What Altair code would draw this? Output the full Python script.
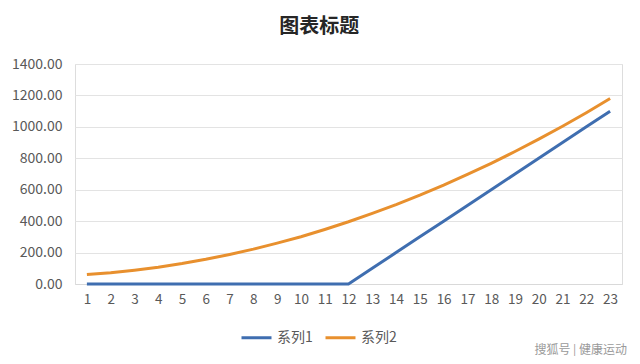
import altair as alt
import pandas as pd

categories = list(range(1, 24))
series1 = [0, 0, 0, 0, 0, 0, 0, 0, 0, 0, 0, 0,
           100, 200, 300, 400, 500, 600, 700, 800, 900, 1000, 1100]
series2 = [60, 72, 88, 107, 130, 157, 188, 222, 260, 301, 347, 396,
           449, 505, 565, 629, 697, 768, 843, 922, 1004, 1090, 1180]
series_names = ["系列1", "系列2"]
colors = ["#3F6EB0", "#E8902E"]
y_ticks = [0, 200, 400, 600, 800, 1000, 1200, 1400]

rows = []
for i, c in enumerate(categories):
    rows.append({"x": str(c), "value": series1[i], "series": series_names[0]})
    rows.append({"x": str(c), "value": series2[i], "series": series_names[1]})
df = pd.DataFrame(rows)

FONT = "Noto Sans CJK SC"

lines = alt.Chart(df).mark_line(strokeWidth=3).encode(
    x=alt.X("x:O", sort=[str(c) for c in categories],
            scale=alt.Scale(type="point", padding=0.5),
            axis=alt.Axis(title=None, labelAngle=0, ticks=False, domain=True,
                          domainColor="#D9D9D9", labelColor="#595959",
                          labelFontSize=13.5, labelPadding=8, labelFont=FONT,
                          grid=False)),
    y=alt.Y("value:Q", scale=alt.Scale(domain=[0, 1400], nice=False),
            axis=alt.Axis(title=None, values=y_ticks, format=".2f", ticks=False,
                          domain=False, labelColor="#595959", labelFontSize=14,
                          labelPadding=13, labelFont=FONT, gridColor="#E3E3E3")),
    color=alt.Color("series:N", scale=alt.Scale(domain=series_names, range=colors),
                    legend=alt.Legend(title=None, orient="none", direction="horizontal",
                                      legendX=165, legendY=257, symbolType="stroke",
                                      symbolSize=900, symbolStrokeWidth=3,
                                      labelFontSize=14, labelColor="#595959",
                                      labelFont=FONT, columnPadding=6, symbolOffset=0)),
)

wm = alt.Chart(pd.DataFrame({"t": ["搜狐号 | 健康运动"]})).mark_text(
    align="right", baseline="middle", fontSize=12, color="#9A9A9A", font=FONT
).encode(text="t:N", x=alt.value(552), y=alt.value(286))

chart = alt.layer(lines, wm).properties(
    width=547, height=220,
    title=alt.TitleParams("图表标题", anchor="middle", frame="bounds", fontSize=20,
                          font=FONT, fontWeight="bold", color="#262626", offset=20),
    autosize=alt.AutoSizeParams(type="none"),
    padding={"left": 67, "top": 56, "right": 10, "bottom": 72},
).configure_view(stroke=None).configure(background="white")

chart.save("out.html", embed_options={"renderer": "svg", "actions": False})
